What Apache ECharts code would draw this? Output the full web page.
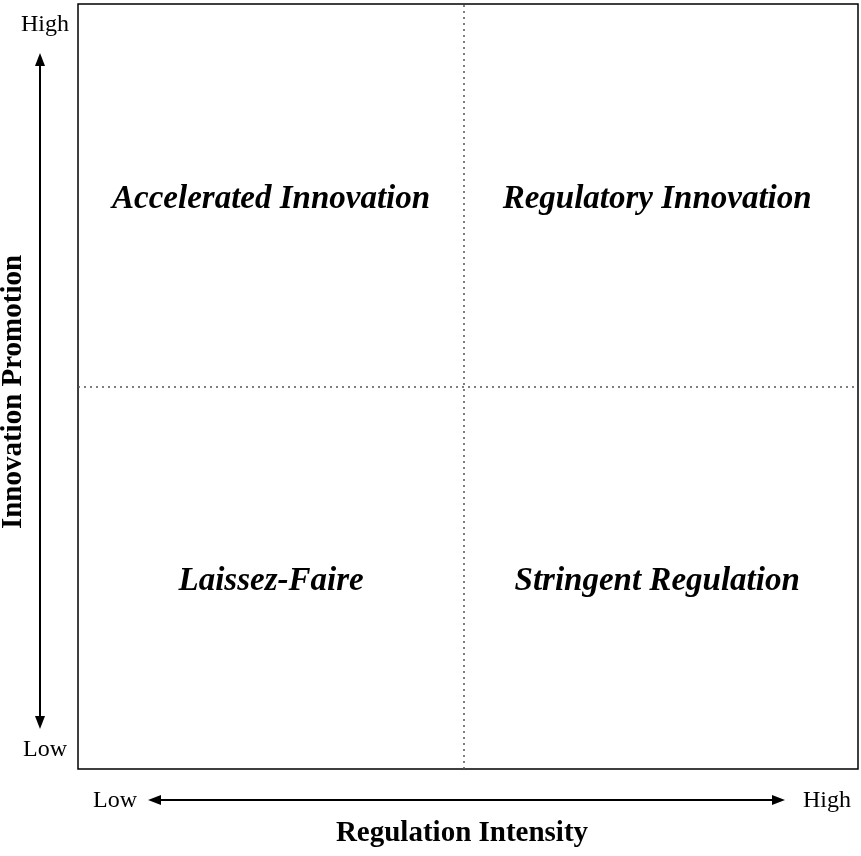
<!DOCTYPE html>
<html><head><meta charset="utf-8">
<script src="https://cdn.jsdelivr.net/npm/echarts@6/dist/echarts.min.js"></script>
<style>html,body{margin:0;padding:0;background:#fff}#c{width:861px;height:856px}</style>
</head><body><div id="c"></div>
<script>
const quadrantNames = ['Accelerated Innovation','Regulatory Innovation','Laissez-Faire','Stringent Regulation'];
const quadrantX = [0.5,1.5,0.5,1.5];
const quadrantY = [1.49,1.49,0.49,0.49];
const xTitle = 'Regulation Intensity';
const yTitle = 'Innovation Promotion';
const endLabels = ['Low','High'];
const F = 'Liberation Serif, Times New Roman, serif';
const chart = echarts.init(document.getElementById('c'));
chart.setOption({
  animation:false,
  grid:{left:78,right:3,top:4,bottom:87,show:true,borderColor:'#000',borderWidth:1.5},
  xAxis:{type:'value',min:0,max:2,show:false},
  yAxis:{type:'value',min:0,max:2,show:false},
  series:[{
    type:'scatter',symbolSize:0,itemStyle:{opacity:1},
    data:quadrantNames.map((n,i)=>({value:[quadrantX[i]*0.99,quadrantY[i]],name:n})),
    label:{show:true,position:'inside',formatter:p=>p.name,fontFamily:F,fontSize:33,fontWeight:'bold',fontStyle:'italic',color:'#000',textBorderWidth:0,opacity:1},
    emphasis:{disabled:true},
    markLine:{silent:true,symbol:'none',label:{show:false},
      lineStyle:{type:[2,4],color:'#555',width:1.5},
      data:[{xAxis:0.99},{yAxis:1.0}]}
  }],
  graphic:[
    {type:'line',shape:{x1:40,y1:62,x2:40,y2:720},style:{stroke:'#000',lineWidth:2}},
    {type:'polygon',shape:{points:[[40,53],[35,66],[45,66]]},style:{fill:'#000'}},
    {type:'polygon',shape:{points:[[40,729],[35,716],[45,716]]},style:{fill:'#000'}},
    {type:'line',shape:{x1:157,y1:800,x2:776,y2:800},style:{stroke:'#000',lineWidth:2}},
    {type:'polygon',shape:{points:[[148,800],[161,795],[161,805]]},style:{fill:'#000'}},
    {type:'polygon',shape:{points:[[785,800],[772,795],[772,805]]},style:{fill:'#000'}},
    {type:'text',x:45,y:25,style:{text:endLabels[1],font:'24px '+F,fill:'#000',align:'center',verticalAlign:'middle'}},
    {type:'text',x:45,y:750,style:{text:endLabels[0],font:'24px '+F,fill:'#000',align:'center',verticalAlign:'middle'}},
    {type:'text',x:115,y:801,style:{text:endLabels[0],font:'24px '+F,fill:'#000',align:'center',verticalAlign:'middle'}},
    {type:'text',x:827,y:801,style:{text:endLabels[1],font:'24px '+F,fill:'#000',align:'center',verticalAlign:'middle'}},
    {type:'text',x:462,y:834,style:{text:xTitle,font:'bold 29px '+F,fill:'#000',align:'center',verticalAlign:'middle'}},
    {type:'text',x:14,y:392,rotation:Math.PI/2,originX:0,originY:0,style:{text:yTitle,font:'bold 29px '+F,fill:'#000',align:'center',verticalAlign:'middle'}}
  ]
});
</script></body></html>
